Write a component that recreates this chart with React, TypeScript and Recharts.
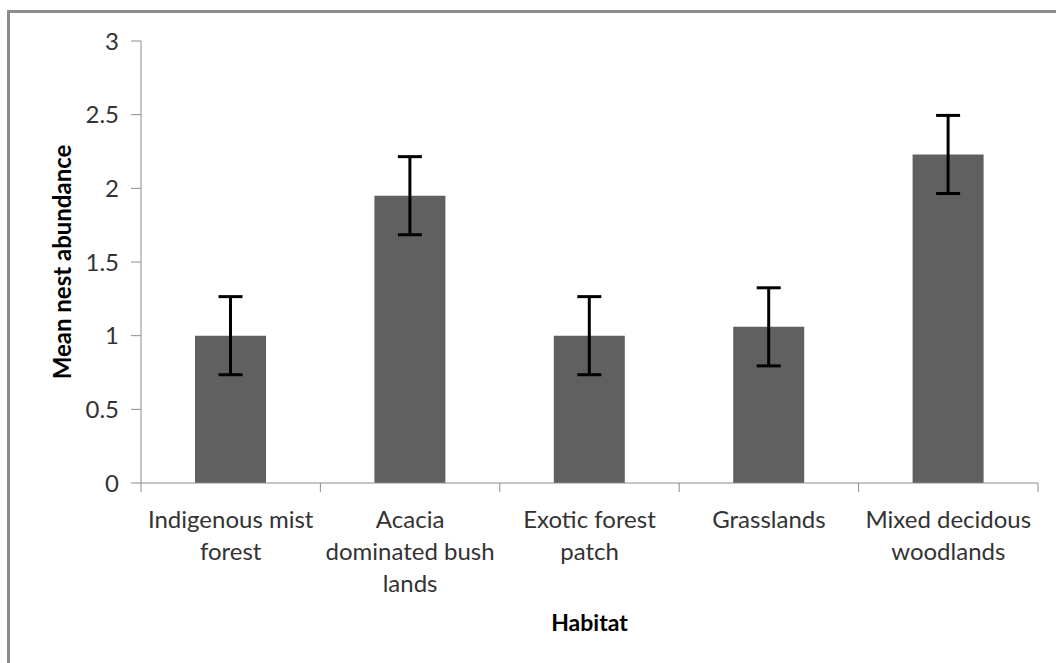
import { Bar, BarChart, ErrorBar, XAxis, YAxis } from 'recharts';

// Mean nest abundance per habitat, with error bars.

const habitats = [
  'Indigenous mist\nforest',
  'Acacia\ndominated bush\nlands',
  'Exotic forest\npatch',
  'Grasslands',
  'Mixed decidous\nwoodlands',
];
const meanNests = [1.0, 1.95, 1.0, 1.06, 2.23];
const nestErrors = [0.265, 0.265, 0.265, 0.265, 0.265];
const yTicks = [0, 0.5, 1, 1.5, 2, 2.5, 3];

const FONT = 'Lato, "Open Sans", sans-serif';
const TEXT = '#333333';
const AXIS = '#8c8c8c';

const rows = habitats.map((h, i) => ({ habitat: h, mean: meanNests[i], err: nestErrors[i] }));

// category label + tick marks on the band edges (Excel style)
function HabitatTick(props: any) {
  const { x, y, payload, index, visibleTicksCount } = props;
  const half = payload.offset ?? 0;
  const lines = String(payload.value).split('\n');
  const last = index === (visibleTicksCount ?? habitats.length) - 1;
  return (
    <g>
      <line x1={x - half} x2={x - half} y1={y} y2={y + 9} stroke={AXIS} />
      {last && <line x1={x + half} x2={x + half} y1={y} y2={y + 9} stroke={AXIS} />}
      <text x={x} y={y} textAnchor="middle" fill={TEXT} fontFamily={FONT} fontSize={24}>
        {lines.map((l, i) => (
          <tspan key={i} x={x} dy={i === 0 ? 45 : 32}>
            {l}
          </tspan>
        ))}
      </text>
    </g>
  );
}

export default function App() {
  return (
    <div style={{ position: 'absolute', left: 0, top: 0, width: 1056, height: 663, background: '#fff' }}>
      <div
        style={{
          position: 'absolute',
          left: 7,
          top: 10,
          width: 1049,
          height: 653,
          boxSizing: 'border-box',
          borderLeft: `3px solid ${AXIS}`,
          borderTop: `3px solid ${AXIS}`,
        }}
      />
      <div style={{ position: 'absolute', left: 0, top: 0 }}>
        <BarChart width={1056} height={663} data={rows} margin={{ top: 41, right: 18, left: 61, bottom: 30 }}>
          <YAxis
            type="number"
            domain={[0, 3]}
            ticks={yTicks}
            interval={0}
            width={80}
            tickSize={10}
            tickMargin={12}
            axisLine={{ stroke: AXIS }}
            tickLine={{ stroke: AXIS }}
            tick={{ fill: TEXT, fontSize: 24, fontFamily: FONT }}
            label={{
              value: 'Mean nest abundance',
              angle: -90,
              position: 'insideLeft',
              offset: 1,
              style: { textAnchor: 'middle', fill: '#000', fontSize: 24, fontWeight: 700, fontFamily: FONT },
            }}
          />
          <XAxis
            dataKey="habitat"
            interval={0}
            height={150}
            tickSize={0}
            tickMargin={0}
            axisLine={{ stroke: AXIS }}
            tickLine={false}
            tick={<HabitatTick />}
            label={{
              value: 'Habitat',
              position: 'insideBottom',
              offset: 2,
              style: { fill: '#000', fontSize: 23, fontWeight: 700, fontFamily: FONT },
            }}
          />
          <Bar dataKey="mean" fill="#606060" barSize={71} isAnimationActive={false}>
            <ErrorBar dataKey="err" direction="y" width={12} strokeWidth={3} stroke="#000" />
          </Bar>
        </BarChart>
      </div>
    </div>
  );
}
